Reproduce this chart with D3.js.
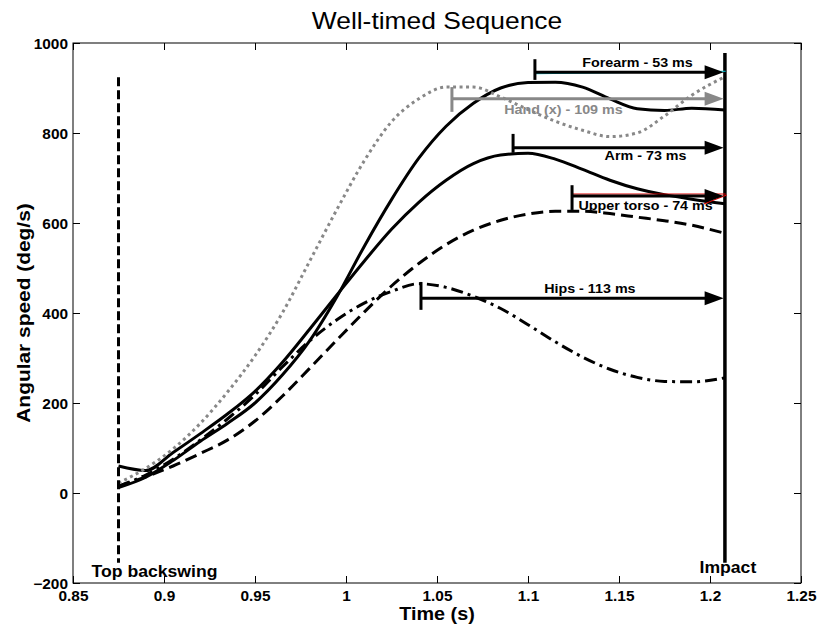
<!DOCTYPE html>
<html>
<head>
<meta charset="utf-8">
<script src="https://cdn.jsdelivr.net/npm/d3@7"></script>
<style>
  body { margin: 0; background: #fff; }
  text { font-family: "Liberation Sans", Arial, sans-serif; }
</style>
</head>
<body>
<svg width="817" height="628"></svg>
<script>
// time samples (s) shared by all segments
var times = [0.875, 0.89, 0.905, 0.92, 0.935, 0.95, 0.965, 0.98, 0.995, 1.01, 1.025, 1.04,
             1.055, 1.07, 1.085, 1.1, 1.115, 1.13, 1.145, 1.16, 1.175, 1.19, 1.2082];

// angular speed (deg/s)
var forearm = [12, 35, 72, 115, 155, 200, 262, 338, 436, 548, 652, 744,
               815, 866, 900, 912, 913, 902, 876, 854, 850, 855, 851];
var arm     = [60, 50, 90, 132, 176, 226, 290, 364, 440, 515, 586, 646,
               695, 732, 751, 755, 742, 719, 695, 676, 663, 653, 643];
var hand    = [22, 55, 98, 155, 225, 305, 400, 515, 630, 738, 825, 876,
               902, 902, 880, 852, 826, 806, 792, 800, 838, 884, 925];
var torso   = [15, 36, 60, 88, 118, 160, 215, 277, 340, 402, 460, 510,
               552, 584, 606, 620, 626, 626, 621, 613, 605, 595, 577];
var hips    = [15, 40, 75, 118, 165, 218, 280, 338, 385, 422, 448, 465,
               457, 437, 410, 374, 336, 302, 275, 257, 248, 247, 256];

// events
var topBackswing = 0.875, impact = 1.2082;

// peak-to-impact annotations
var annNames  = ["Forearm - 53 ms", "Hand (x) - 109 ms", "Arm - 73 ms", "Upper torso - 74 ms", "Hips - 113 ms"];
var annStart  = [1.1038, 1.0582, 1.0918, 1.1242, 1.0412];
var annLevel  = [935, 876, 767, 660, 433];
var annTickHi = [964, 902, 798, 684, 469];
var annTickLo = [918, 847, 756, 629, 407];
var annLabelT = [1.1602, 1.1195, 1.1646, 1.1646, 1.134];

var xTicks = [0.85, 0.9, 0.95, 1, 1.05, 1.1, 1.15, 1.2, 1.25];
var yTicks = [-200, 0, 200, 400, 600, 800, 1000];

var svg = d3.select("svg");
var pLeft = 73, pRight = 801, pTop = 43, pBottom = 583;

var x = d3.scaleLinear().domain([0.85, 1.25]).range([pLeft, pRight]);
var y = d3.scaleLinear().domain([-200, 1000]).range([pBottom, pTop]);

// MATLAB text renders a little wider than Liberation Sans
function widen(sel, f) {
    sel.each(function () {
        var w = this.getComputedTextLength();
        d3.select(this).attr("textLength", w * f).attr("lengthAdjust", "spacingAndGlyphs");
    });
}

// axes (ticks point inward)
var fmt = function (d) { return String(+d.toFixed(2)); };
var gx = svg.append("g").attr("transform", "translate(0," + pBottom + ")")
    .call(d3.axisBottom(x).tickValues(xTicks).tickFormat(fmt).tickSize(-7).tickPadding(9));
var gxt = svg.append("g").attr("transform", "translate(0," + pTop + ")")
    .call(d3.axisTop(x).tickValues(xTicks).tickFormat("").tickSize(-7));
var gy = svg.append("g").attr("transform", "translate(" + pLeft + ",0)")
    .call(d3.axisLeft(y).tickValues(yTicks).tickFormat(d3.format("d")).tickSize(-7).tickPadding(5));
var gyr = svg.append("g").attr("transform", "translate(" + pRight + ",0)")
    .call(d3.axisRight(y).tickValues(yTicks).tickFormat("").tickSize(-7));

[gx, gxt, gy, gyr].forEach(function (g) {
    g.select(".domain").remove();
    g.selectAll("line").attr("stroke", "#000");
    g.selectAll("text").attr("font-size", 14).attr("font-weight", "bold").attr("fill", "#000")
        .attr("font-family", "Liberation Sans, Arial, sans-serif");
});
gx.selectAll("text").attr("dy", "0.62em");
gy.selectAll("text").attr("dy", "0.36em");
widen(gx.selectAll("text"), 1.1);
widen(gy.selectAll("text"), 1.1);

svg.append("rect")
    .attr("x", pLeft).attr("y", pTop)
    .attr("width", pRight - pLeft).attr("height", pBottom - pTop)
    .attr("fill", "none").attr("stroke", "#000").attr("stroke-width", 1);

// curves
var line = d3.line()
    .x(function (d, i) { return x(times[i]); })
    .y(function (d) { return y(d); })
    .curve(d3.curveMonotoneX);

var series = [
    { v: hips,    color: "#000", dash: "12,5,3,5" },
    { v: torso,   color: "#000", dash: "12,6" },
    { v: arm,     color: "#000", dash: null },
    { v: forearm, color: "#000", dash: null },
    { v: hand,    color: "#888", dash: "3,3.5" }
];

svg.append("g").selectAll("path")
    .data(series)
    .enter().append("path")
    .attr("d", function (d) { return line(d.v); })
    .attr("fill", "none")
    .attr("stroke", function (d) { return d.color; })
    .attr("stroke-width", 3)
    .attr("stroke-dasharray", function (d) { return d.dash; });

// event lines
svg.append("line")
    .attr("x1", x(topBackswing)).attr("x2", x(topBackswing))
    .attr("y1", y(924)).attr("y2", y(-155))
    .attr("stroke", "#000").attr("stroke-width", 3).attr("stroke-dasharray", "9,4");
svg.append("line")
    .attr("x1", x(impact)).attr("x2", x(impact))
    .attr("y1", y(978)).attr("y2", y(-155))
    .attr("stroke", "#000").attr("stroke-width", 3.5);

svg.append("text").text("Top backswing")
    .attr("x", x(topBackswing) + 36).attr("y", 577)
    .attr("text-anchor", "middle").attr("font-size", 16).attr("font-weight", "bold")
    .call(widen, 1.1);
svg.append("text").text("Impact")
    .attr("x", x(impact) + 3).attr("y", 573)
    .attr("text-anchor", "middle").attr("font-size", 16).attr("font-weight", "bold")
    .call(widen, 1.1);

// annotations
var tipT = 1.2075;
var annColor = ["#000", "#888", "#000", "#000", "#000"];
var labelDy = [-5, 15, 12, 14, -5];

// thin coloured edges that show under two arrows
svg.append("line")
    .attr("x1", x(annStart[0])).attr("y1", y(annLevel[0]) + 1.5)
    .attr("x2", x(tipT) + 2).attr("y2", y(annLevel[0]) - 1)
    .attr("stroke", "#00c8d8").attr("stroke-width", 1.2);
svg.append("line")
    .attr("x1", x(annStart[3])).attr("y1", y(annLevel[3]) - 2)
    .attr("x2", x(tipT) + 2).attr("y2", y(annLevel[3]) - 2)
    .attr("stroke", "#e00000").attr("stroke-width", 1.2);
svg.append("line")
    .attr("x1", x(tipT) - 20).attr("y1", y(annLevel[3]) + 8)
    .attr("x2", x(tipT) + 3).attr("y2", y(annLevel[3]) - 1)
    .attr("stroke", "#e00000").attr("stroke-width", 1.2);

var ann = svg.append("g").selectAll("g")
    .data(annNames)
    .enter().append("g");

ann.append("line")
    .attr("x1", function (d, i) { return x(annStart[i]); })
    .attr("x2", function (d, i) { return x(tipT) - 16; })
    .attr("y1", function (d, i) { return y(annLevel[i]); })
    .attr("y2", function (d, i) { return y(annLevel[i]); })
    .attr("stroke", function (d, i) { return annColor[i]; })
    .attr("stroke-width", 3);

ann.append("line")
    .attr("x1", function (d, i) { return x(annStart[i]); })
    .attr("x2", function (d, i) { return x(annStart[i]); })
    .attr("y1", function (d, i) { return y(annTickHi[i]); })
    .attr("y2", function (d, i) { return y(annTickLo[i]); })
    .attr("stroke", function (d, i) { return annColor[i]; })
    .attr("stroke-width", 3);

ann.append("path")
    .attr("d", function (d, i) {
        var xt = x(tipT), yy = y(annLevel[i]);
        return "M" + xt + "," + yy + "L" + (xt - 19) + "," + (yy - 7) + "L" + (xt - 19) + "," + (yy + 7) + "Z";
    })
    .attr("fill", function (d, i) { return annColor[i]; });

ann.append("text")
    .text(function (d) { return d; })
    .attr("x", function (d, i) { return x(annLabelT[i]); })
    .attr("y", function (d, i) { return y(annLevel[i]) + labelDy[i]; })
    .attr("text-anchor", "middle")
    .attr("font-size", 13).attr("font-weight", "bold")
    .attr("fill", function (d, i) { return annColor[i]; })
    .call(widen, 1.1);

// titles
svg.append("text").text("Well-timed Sequence")
    .attr("x", (pLeft + pRight) / 2).attr("y", 29)
    .attr("text-anchor", "middle").attr("font-size", 24)
    .call(widen, 1.1);

svg.append("text").text("Time (s)")
    .attr("x", (pLeft + pRight) / 2).attr("y", 620)
    .attr("text-anchor", "middle").attr("font-size", 18).attr("font-weight", "bold")
    .call(widen, 1.1);

svg.append("text").text("Angular speed (deg/s)")
    .attr("transform", "translate(30," + (pTop + pBottom) / 2 + ") rotate(-90)")
    .attr("text-anchor", "middle").attr("font-size", 19).attr("font-weight", "bold")
    .call(widen, 1.1);
</script>
</body>
</html>
